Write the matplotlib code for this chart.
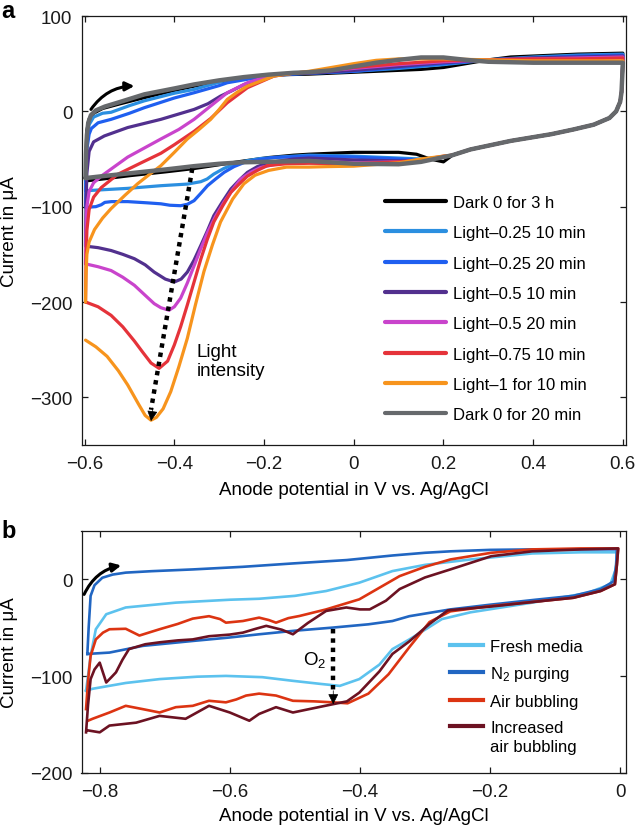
import matplotlib
matplotlib.use("Agg")
import matplotlib.pyplot as plt
import numpy as np

plt.rcParams['font.family'] = ['Liberation Sans', 'DejaVu Sans']
plt.rcParams['mathtext.fontset'] = 'custom'
plt.rcParams['mathtext.rm'] = 'Liberation Sans'
plt.rcParams['mathtext.it'] = 'Liberation Sans:italic'
plt.rcParams['mathtext.bf'] = 'Liberation Sans:bold'

# ---------------- Panel a data ----------------
labels_a = ["Dark 0 for 3 h", "Light\u20130.25 10 min", "Light\u20130.25 20 min",
            "Light\u20130.5 10 min", "Light\u20130.5 20 min", "Light\u20130.75 10 min",
            "Light\u20131 for 10 min", "Dark 0 for 20 min"]
colors_a = ["#000000", "#2b8fe0", "#1f5ff0", "#52308e", "#c944cc", "#e5333a", "#f7941d", "#66696c"]
widths_a = [2.3, 2.3, 2.3, 2.3, 2.3, 2.3, 2.3, 3.2]

# shared shape of the return scan near +0.6 V
drop_x = [0.599, 0.597, 0.594, 0.585, 0.57, 0.535, 0.49, 0.44, 0.35, 0.26, 0.22]
drop_y = [40, 20, 10, 0, -7, -14, -19, -24, -31, -40, -46]

dark3h_fx = [-0.598, -0.597, -0.595, -0.59, -0.58, -0.56, -0.52, -0.47, -0.4, -0.35, -0.3, -0.25, -0.2, -0.15, -0.1, 0.0, 0.1, 0.15, 0.2, 0.25, 0.3, 0.35, 0.4, 0.5, 0.6]
dark3h_fy = [-73, -45, -20, -8, -2, 3, 8, 14, 22, 27, 31, 34, 37, 38.5, 39, 41, 43, 44, 46, 50, 54, 57, 58, 60, 61]
dark3h_rx = [0.2, 0.17, 0.14, 0.1, 0.0, -0.1, -0.134, -0.19, -0.244, -0.3, -0.356, -0.42, -0.5, -0.56, -0.598]
dark3h_ry = [-53, -50, -45, -43, -43, -45, -46, -48.5, -52, -56, -60, -63.5, -67.5, -71, -73]

l025a_fx = [-0.598, -0.597, -0.595, -0.59, -0.58, -0.56, -0.541, -0.5, -0.467, -0.4, -0.356, -0.282, -0.2, -0.15, -0.1, 0.0, 0.1, 0.2, 0.3, 0.4, 0.5, 0.6]
l025a_fy = [-83, -55, -30, -14, -6, -2, -1, 6, 11, 19, 23, 33, 38, 39, 40, 42, 45, 49, 54, 57, 59, 60]
l025a_rx = [0.2, 0.15, 0.1, 0.0, -0.1, -0.15, -0.208, -0.24, -0.267, -0.29, -0.312, -0.327, -0.341, -0.371, -0.43, -0.504, -0.55, -0.598]
l025a_ry = [-48, -50, -49, -47, -46, -47.5, -49.5, -52, -55.4, -60, -65.8, -71, -73.8, -76.3, -78, -80.8, -82, -83.3]

l025b_fx = [-0.598, -0.597, -0.595, -0.59, -0.585, -0.57, -0.541, -0.5, -0.467, -0.4, -0.356, -0.3, -0.282, -0.208, -0.15, -0.1, 0.0, 0.1, 0.2, 0.3, 0.4, 0.5, 0.6]
l025b_fy = [-100, -70, -40, -24, -18, -12, -8.4, -2, 3.8, 14, 19.5, 27, 30, 36, 38.5, 40, 42, 46, 50, 54, 56, 58, 59]
l025b_rx = [0.2, 0.15, 0.1, 0.0, -0.1, -0.178, -0.21, -0.244, -0.267, -0.289, -0.308, -0.326, -0.341, -0.356, -0.371, -0.386, -0.41, -0.43, -0.46, -0.504, -0.54, -0.555, -0.563, -0.575, -0.598]
l025b_ry = [-48, -51, -50, -48, -47, -48.4, -50.5, -53.6, -58, -64, -71, -78, -86, -93.7, -97.5, -99, -98.5, -97, -96, -94.7, -94.7, -95.5, -98, -100, -100.7]

l05a_fx = [-0.598, -0.597, -0.595, -0.59, -0.58, -0.556, -0.504, -0.43, -0.356, -0.325, -0.297, -0.27, -0.245, -0.193, -0.15, -0.1, 0.0, 0.1, 0.2, 0.3, 0.4, 0.5, 0.6]
l05a_fy = [-141, -100, -65, -42, -32, -25.8, -17, -8.4, 2, 8, 16, 22, 28, 37, 39.5, 40, 43, 47, 51, 54, 56, 57, 58]
l05a_rx = [0.2, 0.15, 0.1, 0.0, -0.1, -0.134, -0.165, -0.193, -0.215, -0.237, -0.255, -0.274, -0.293, -0.312, -0.326, -0.341, -0.356, -0.371, -0.385, -0.40, -0.42, -0.445, -0.465, -0.489, -0.515, -0.541, -0.57, -0.598]
l05a_ry = [-48, -52, -52, -51, -49, -50, -52, -54.3, -58, -64, -72, -81.5, -95, -109.4, -125, -140.7, -156, -168.6, -176, -179, -176, -168.6, -161, -154.6, -150, -146, -143, -141.4]

l05b_fx = [-0.598, -0.597, -0.595, -0.59, -0.58, -0.563, -0.504, -0.43, -0.39, -0.356, -0.319, -0.282, -0.237, -0.178, -0.13, -0.1, 0.0, 0.1, 0.2, 0.3, 0.4, 0.5, 0.6]
l05b_fy = [-160, -125, -100, -84, -75, -68, -48, -29, -19, -8.4, 5.6, 19.5, 30, 38.7, 40.5, 41, 45, 49, 52, 54, 55, 56, 57]
l05b_rx = [0.2, 0.15, 0.1, 0.0, -0.1, -0.134, -0.17, -0.208, -0.23, -0.252, -0.27, -0.289, -0.308, -0.326, -0.341, -0.356, -0.371, -0.386, -0.40, -0.412, -0.43, -0.445, -0.465, -0.489, -0.515, -0.541, -0.57, -0.598]
l05b_ry = [-48, -52, -53, -54, -52, -53.6, -55, -59, -64, -71, -82, -95, -110, -127, -144, -162, -180, -196, -205, -208.6, -206, -201.7, -193, -182.5, -174, -167, -163, -160]

l075_fx = [-0.598, -0.597, -0.595, -0.59, -0.58, -0.563, -0.526, -0.474, -0.43, -0.4, -0.356, -0.319, -0.282, -0.237, -0.178, -0.13, -0.1, 0.0, 0.1, 0.2, 0.3, 0.4, 0.5, 0.6]
l075_fy = [-200, -160, -125, -103, -90, -80, -66, -54, -44, -35, -21, -7.5, 9, 24.8, 37, 40.5, 41, 46, 50, 53, 54, 55, 55, 56]
l075_rx = [0.2, 0.15, 0.1, 0.0, -0.1, -0.15, -0.193, -0.215, -0.237, -0.255, -0.274, -0.292, -0.312, -0.327, -0.341, -0.356, -0.371, -0.386, -0.40, -0.415, -0.434, -0.452, -0.47, -0.489, -0.515, -0.541, -0.57, -0.598]
l075_ry = [-47, -51, -53, -55, -54.5, -55, -57, -62, -68, -76, -85, -99, -116, -135, -155, -179, -203, -226, -245, -262, -269.6, -264, -253, -241, -226, -214, -205, -200]

l1_fx = [-0.598, -0.597, -0.595, -0.59, -0.578, -0.56, -0.541, -0.51, -0.482, -0.455, -0.43, -0.4, -0.371, -0.345, -0.319, -0.3, -0.282, -0.26, -0.237, -0.178, -0.134, -0.1, -0.05, 0.0, 0.05, 0.1, 0.2, 0.3, 0.4, 0.5, 0.6]
l1_fy = [-200, -172, -150, -137, -124, -112, -102, -88, -76, -66, -57, -43, -29, -19, -8.4, 2, 12.5, 20, 26.5, 37, 40, 42, 46, 50, 53.5, 55, 55, 54, 53, 53, 53]
l1_rx = [0.2, 0.15, 0.1, 0.0, -0.06, -0.1, -0.15, -0.19, -0.22, -0.245, -0.27, -0.297, -0.315, -0.334, -0.353, -0.371, -0.39, -0.408, -0.425, -0.44, -0.452, -0.465, -0.48, -0.504, -0.525, -0.55, -0.575, -0.598]
l1_ry = [-47, -50, -54, -57.5, -58, -58.5, -58.5, -62, -67, -76, -92, -116, -140, -168, -203, -238, -268, -294, -312, -321, -324, -319, -307, -287, -272, -257, -247, -240]

dark20_fx = [-0.598, -0.597, -0.595, -0.592, -0.586, -0.575, -0.555, -0.52, -0.467, -0.4, -0.356, -0.3, -0.245, -0.19, -0.134, -0.1, -0.05, 0.0, 0.05, 0.1, 0.15, 0.2, 0.25, 0.3, 0.4, 0.5, 0.6]
dark20_fy = [-70, -45, -25, -12, -4, 1, 5, 10, 17.8, 24, 28.2, 32.5, 35.9, 38.5, 40.4, 41, 43, 47, 51, 54, 56.5, 56.5, 54, 52, 51, 51, 51]
dark20_rx = [0.2, 0.15, 0.1, 0.0, -0.1, -0.15, -0.2, -0.25, -0.3, -0.356, -0.42, -0.5, -0.56, -0.598]
dark20_ry = [-48, -53, -55.5, -55, -52, -52.5, -53, -53.5, -55, -57.5, -61, -65, -68, -70]

curves_a = [
    (dark3h_fx, dark3h_fy, dark3h_rx, dark3h_ry),
    (l025a_fx, l025a_fy, l025a_rx, l025a_ry),
    (l025b_fx, l025b_fy, l025b_rx, l025b_ry),
    (l05a_fx, l05a_fy, l05a_rx, l05a_ry),
    (l05b_fx, l05b_fy, l05b_rx, l05b_ry),
    (l075_fx, l075_fy, l075_rx, l075_ry),
    (l1_fx, l1_fy, l1_rx, l1_ry),
    (dark20_fx, dark20_fy, dark20_rx, dark20_ry),
]

xticks_a = [-0.6, -0.4, -0.2, 0, 0.2, 0.4, 0.6]
yticks_a = [100, 0, -100, -200, -300]
xticklabels_a = ["\u22120.6", "\u22120.4", "\u22120.2", "0", "0.2", "0.4", "0.6"]

# ---------------- Panel b data ----------------
labels_b = ["Fresh media", "N$_2$ purging", "Air bubbling", "Increased"]
colors_b = ["#5cc2ee", "#2166c2", "#dc3412", "#6c1222"]

fresh_x = [-0.821, -0.818, -0.814, -0.806, -0.79, -0.76, -0.683, -0.6, -0.555, -0.5, -0.452, -0.401, -0.35, -0.3, -0.23, -0.135, -0.06, -0.005,
           -0.007, -0.015, -0.05, -0.135, -0.23, -0.274, -0.3, -0.324, -0.35, -0.37, -0.401, -0.431, -0.46, -0.503, -0.55, -0.606, -0.65, -0.708, -0.76, -0.811, -0.821]
fresh_y = [-115, -100, -79, -51.5, -36, -29, -24, -21, -20, -17, -12, -3.4, 8.6, 15, 20.6, 26.8, 28, 28,
           10, -5, -14, -24, -34, -41, -52, -62, -72, -88, -103, -110, -108, -104.8, -101, -99.7, -100.5, -103, -107, -113, -115]

n2_x = [-0.819, -0.817, -0.814, -0.808, -0.796, -0.78, -0.76, -0.72, -0.657, -0.58, -0.503, -0.42, -0.35, -0.3, -0.261, -0.2, -0.135, -0.07, -0.005,
        -0.006, -0.01, -0.03, -0.072, -0.13, -0.198, -0.261, -0.324, -0.35, -0.387, -0.442, -0.5, -0.555, -0.6, -0.657, -0.734, -0.785, -0.819]
n2_y = [-77, -50, -17, -6, 1.7, 5, 7, 8.5, 10.3, 13, 16.5, 20, 24.7, 27.5, 29, 30.5, 31, 31, 31,
        15, -2, -10, -17, -21, -26, -31, -38, -43, -46.4, -49.8, -53, -56.7, -60, -63.6, -68.7, -75.6, -77]

air_x = [-0.821, -0.818, -0.814, -0.806, -0.795, -0.785, -0.76, -0.739, -0.72, -0.708, -0.68, -0.657, -0.632, -0.615, -0.606, -0.58, -0.555, -0.54, -0.529, -0.51, -0.493, -0.452, -0.401, -0.339, -0.3, -0.261, -0.198, -0.135, -0.06, -0.003,
         -0.005, -0.008, -0.03, -0.072, -0.13, -0.198, -0.261, -0.293, -0.324, -0.356, -0.387, -0.419, -0.442, -0.47, -0.503, -0.529, -0.555, -0.575, -0.59, -0.606, -0.632, -0.657, -0.683, -0.708, -0.734, -0.76, -0.785, -0.811, -0.818]
air_y = [-134, -105, -79, -62, -55, -51.5, -51, -58, -54, -51.5, -46, -40.5, -38, -41, -44.7, -43, -39.5, -42, -44.7, -40, -37.8, -31, -20.6, 3.4, 13, 20.6, 27.5, 31, 32, 32,
         15, -5, -12, -19, -23, -27.5, -33, -44, -70, -98, -118, -128, -127, -126, -125.4, -120, -118, -120, -124, -127, -125.4, -130.6, -132, -137.5, -134, -130.6, -137.5, -144, -146]

inc_x = [-0.821, -0.818, -0.814, -0.808, -0.8, -0.79, -0.782, -0.775, -0.765, -0.755, -0.73, -0.708, -0.68, -0.657, -0.632, -0.6, -0.58, -0.56, -0.544, -0.52, -0.503, -0.48, -0.452, -0.421, -0.4, -0.385, -0.36, -0.339, -0.3, -0.261, -0.198, -0.135, -0.06, -0.003,
         -0.005, -0.008, -0.03, -0.072, -0.13, -0.198, -0.265, -0.293, -0.324, -0.35, -0.37, -0.401, -0.42, -0.442, -0.478, -0.503, -0.529, -0.555, -0.57, -0.6, -0.632, -0.668, -0.708, -0.744, -0.785, -0.8, -0.818]
inc_y = [-158, -130, -103, -93, -86, -106.5, -101, -96, -83, -72, -67, -65, -63, -62, -58.7, -57, -55, -51, -48, -52, -56.7, -45, -32.6, -29, -31, -31, -22, -10, 2, 10.3, 24, 29, 31, 32,
         15, -5, -12, -19, -23, -28, -32, -46, -64, -77, -95, -117, -126, -129, -134, -137.5, -132, -139, -146, -137.5, -130.6, -144, -141, -148, -151, -158, -156]

series_b = [(fresh_x, fresh_y), (n2_x, n2_y), (air_x, air_y), (inc_x, inc_y)]

xticks_b = [-0.8, -0.6, -0.4, -0.2, 0]
xticklabels_b = ["\u22120.8", "\u22120.6", "\u22120.4", "\u22120.2", "0"]
yticks_b = [0, -100, -200]

# annotation anchor points (data coordinates)
arrow_a_start, arrow_a_end = (-0.36, -60), (-0.452, -325)
arrow_b_start, arrow_b_end = (-0.441, -51.5), (-0.441, -129)
scan_a_start, scan_a_end = (-0.586, 2), (-0.489, 26.5)
scan_b_start, scan_b_end = (-0.824, -15.5), (-0.767, 14.4)

# ---------------- Figure ----------------
W, H = 636, 829
fig = plt.figure(figsize=(W / 100, H / 100), dpi=100)
L, R = 81.5, 626
ax_a = fig.add_axes([L / W, 1 - 446 / H, (R - L) / W, (446 - 17) / H])
ax_b = fig.add_axes([L / W, 1 - 774 / H, (R - L) / W, (774 - 532) / H])

TICK_FS = 13.5
LEG_FS = 12


def style_axes(ax):
    for s in ax.spines.values():
        s.set_linewidth(0.9)
        s.set_color("#1a1a1a")
    ax.tick_params(direction="in", length=4.5, width=0.9, top=True, right=True,
                   labelsize=TICK_FS, colors="#1a1a1a")
    ax.tick_params(axis="x", pad=7.5)
    ax.tick_params(axis="y", pad=6.5)


# Panel a
for (fx, fy, rx, ry), c, lw, lab in zip(curves_a, colors_a, widths_a, labels_a):
    xs = list(fx) + drop_x + list(rx)
    ys = list(fy) + drop_y + list(ry)
    ax_a.plot(xs, ys, color=c, lw=lw, solid_joinstyle="round", solid_capstyle="round", label=lab)

ax_a.set_xlim(-0.607, 0.607)
ax_a.set_ylim(-350, 100)
ax_a.set_xticks(xticks_a)
ax_a.set_xticklabels(xticklabels_a)
ax_a.set_yticks(yticks_a)
ax_a.set_yticklabels(["100", "0", "\u2212100", "\u2212200", "\u2212300"])
style_axes(ax_a)
ax_a.set_xlabel("Anode potential in V vs. Ag/AgCl", fontsize=TICK_FS)
ax_a.set_ylabel("Current in \u03bcA", fontsize=TICK_FS)
ax_a.xaxis.set_label_coords(0.5, -0.084)
ax_a.yaxis.set_label_coords(-0.117, 0.5)

leg_a = ax_a.legend(loc="center left", bbox_to_anchor=(0.557, 0.318), frameon=False,
                    fontsize=LEG_FS, handlelength=3.7, handletextpad=0.4, labelspacing=0.92,
                    borderpad=0, borderaxespad=0)
for h in leg_a.get_lines():
    h.set_linewidth(3.0)

# dotted arrow a
ax_a.plot([arrow_a_start[0], arrow_a_end[0]], [arrow_a_start[1], arrow_a_end[1] + 12],
          color="k", lw=3.2, linestyle=(0, (1, 1.1)), solid_capstyle="butt")
ax_a.annotate("", xy=arrow_a_end, xytext=(arrow_a_end[0] + 0.004, arrow_a_end[1] + 14),
              arrowprops=dict(arrowstyle="-|>", color="k", lw=0.5, mutation_scale=16,
                              shrinkA=0, shrinkB=0))
ax_a.text(-0.35, -262, "Light\nintensity", fontsize=TICK_FS, ha="left", va="center", linespacing=1.1)
ax_a.annotate("", xy=scan_a_end, xytext=scan_a_start,
              arrowprops=dict(arrowstyle="-|>", color="k", lw=2.2, mutation_scale=13,
                              connectionstyle="arc3,rad=-0.25", shrinkA=0, shrinkB=0))

# Panel b
for (x, y), c, lab in zip(series_b, colors_b, labels_b):
    ax_b.plot(x, y, color=c, lw=1.9, solid_joinstyle="round", label=lab)

ax_b.set_xlim(-0.828, 0.009)
ax_b.set_ylim(-200, 50)
ax_b.set_xticks(xticks_b)
ax_b.set_xticklabels(xticklabels_b)
ax_b.set_yticks(yticks_b)
ax_b.set_yticklabels(["0", "\u2212100", "\u2212200"])
style_axes(ax_b)
ax_b.set_xlabel("Anode potential in V vs. Ag/AgCl", fontsize=TICK_FS)
ax_b.set_ylabel("Current in \u03bcA", fontsize=TICK_FS)
ax_b.xaxis.set_label_coords(0.5, -0.14)
ax_b.yaxis.set_label_coords(-0.117, 0.5)

leg_b = ax_b.legend(loc="center left", bbox_to_anchor=(0.676, 0.357), frameon=False,
                    fontsize=LEG_FS, handlelength=2.0, handletextpad=0.45, labelspacing=0.64,
                    borderpad=0, borderaxespad=0)
for h in leg_b.get_lines():
    h.set_linewidth(3.0)
ax_b.annotate("air bubbling", xy=(0, 0), xycoords=leg_b.get_texts()[-1],
              xytext=(0, -19), textcoords="offset pixels", ha="left", va="bottom",
              fontsize=LEG_FS, zorder=10, annotation_clip=False)

ax_b.plot([arrow_b_start[0], arrow_b_end[0]], [arrow_b_start[1], arrow_b_end[1] + 12],
          color="k", lw=3.2, linestyle=(0, (1, 1.1)), solid_capstyle="butt")
ax_b.annotate("", xy=arrow_b_end, xytext=(arrow_b_end[0], arrow_b_end[1] + 14),
              arrowprops=dict(arrowstyle="-|>", color="k", lw=0.5, mutation_scale=16,
                              shrinkA=0, shrinkB=0))
ax_b.text(-0.452, -82, "O$_2$", fontsize=TICK_FS, ha="right", va="center")
ax_b.annotate("", xy=scan_b_end, xytext=scan_b_start,
              arrowprops=dict(arrowstyle="-|>", color="k", lw=2.2, mutation_scale=13,
                              connectionstyle="arc3,rad=-0.25", shrinkA=0, shrinkB=0))

fig.text(0.002, 1 - 0.5 / H, "a", fontsize=17, fontweight="bold", ha="left", va="top")
fig.text(0.002, 1 - 531 / H, "b", fontsize=17, fontweight="bold", ha="left", va="center")

fig.savefig("out.png", dpi=100)
